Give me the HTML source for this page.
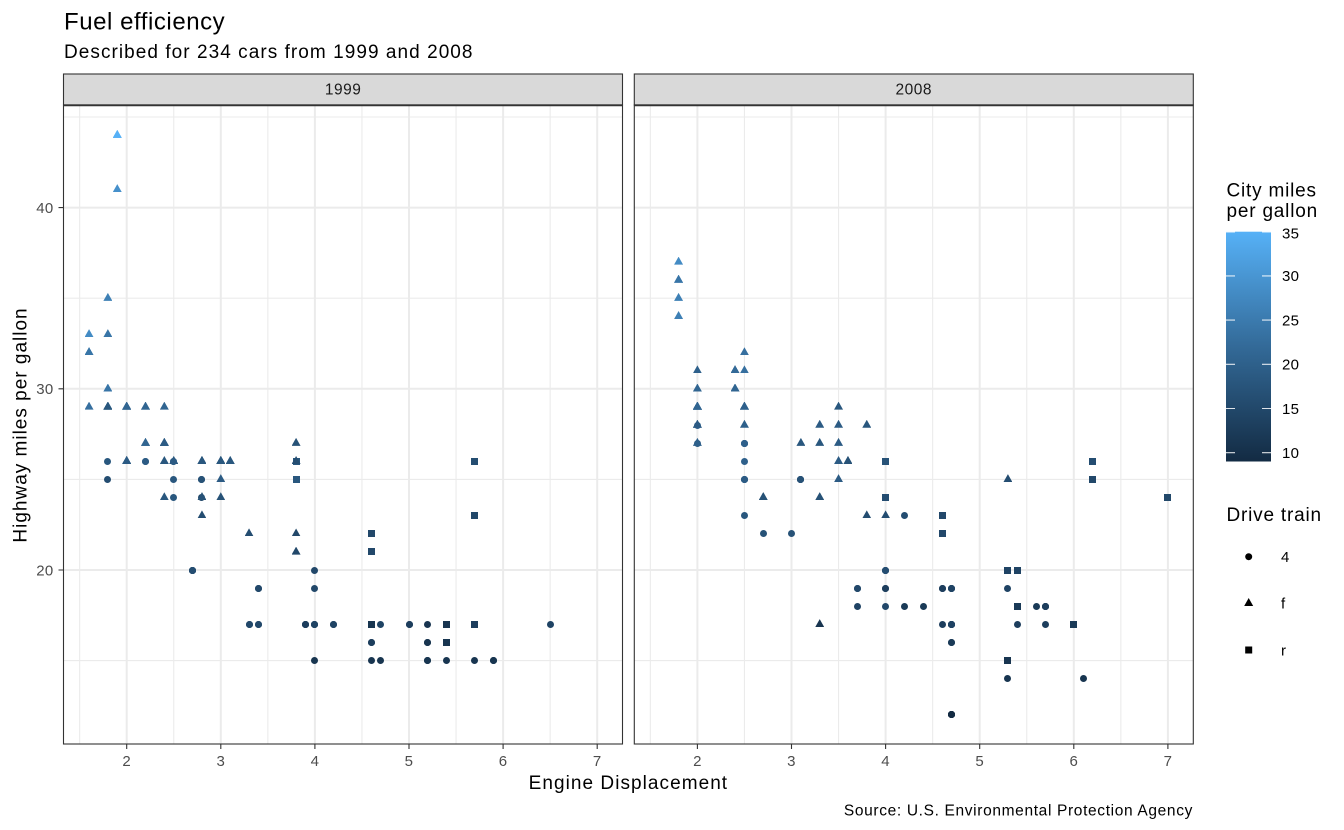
<!DOCTYPE html>
<html><head><meta charset="utf-8">
<style>
html,body{margin:0;padding:0;background:#fff;}
body{width:1344px;height:830px;position:relative;overflow:hidden;font-family:"Liberation Sans",Arial,sans-serif;}
svg{position:absolute;left:0;top:0;}
svg text{font-family:"Liberation Sans",Arial,sans-serif;}
.pts{position:absolute;left:0;top:0;width:1344px;height:830px;}
.pts i{position:absolute;display:block;font-size:0;line-height:0;top:calc(932.4px - var(--y) * 18.12px);}
.a i{left:calc(var(--x) * 94.1px - 61.5px);}
.b i{left:calc(var(--x) * 94.1px + 509.2px);}
.o{width:7px;height:7px;border-radius:50%;margin:-3.5px 0 0 -3.5px;}
.q{width:7px;height:7px;margin:-3.5px 0 0 -3.5px;}
.t{width:9px;height:8px;margin:-5.3px 0 0 -4.5px;clip-path:polygon(50% 0,100% 100%,0 100%);}
.k9{background:#132B43}.k11{background:#183550}.k12{background:#1A3A57}.k13{background:#1D3E5D}
.k14{background:#1F4364}.k15{background:#22486A}.k16{background:#244D71}.k17{background:#275277}
.k18{background:#29577E}.k19{background:#2C5B84}.k20{background:#2E608B}.k21{background:#316591}
.k22{background:#336A98}.k23{background:#366F9F}.k24{background:#3875A7}.k25{background:#3B7AAE}
.k26{background:#3E80B5}.k28{background:#438BC4}.k29{background:#4690CB}.k33{background:#51A6E8}
.k35{background:#56B1F7}
</style></head><body>
<svg width="1344" height="830" viewBox="0 0 1344 830">
<defs>
<linearGradient id="cb" x1="0" y1="0" x2="0" y2="1">
<stop offset="0" stop-color="#56B1F7"/>
<stop offset="0.5" stop-color="#336A98"/>
<stop offset="1" stop-color="#132B43"/>
</linearGradient>
</defs>
<rect width="1344" height="830" fill="#fff"/>
<!-- minor grid -->
<path fill="none" stroke="#EBEBEB" stroke-width="1.1" d="M79.65 105V744M173.75 105V744M267.85 105V744M361.95 105V744M456.05 105V744M550.15 105V744
M63.5 660.6H622.5M63.5 479.4H622.5M63.5 298.2H622.5M63.5 117H622.5
M650.35 105V744M744.45 105V744M838.55 105V744M932.65 105V744M1026.75 105V744M1120.85 105V744
M634.3 660.6H1193.3M634.3 479.4H1193.3M634.3 298.2H1193.3M634.3 117H1193.3"/>
<!-- major grid -->
<path fill="none" stroke="#EBEBEB" stroke-width="2" d="M126.7 105V744M220.8 105V744M314.9 105V744M409 105V744M503.1 105V744M597.2 105V744
M63.5 570H622.5M63.5 388.8H622.5M63.5 207.6H622.5
M697.4 105V744M791.5 105V744M885.6 105V744M979.7 105V744M1073.8 105V744M1167.9 105V744
M634.3 570H1193.3M634.3 388.8H1193.3M634.3 207.6H1193.3"/>
<!-- strips -->
<rect x="63.5" y="74" width="559" height="31" fill="#D9D9D9" stroke="#333333" stroke-width="1.1"/>
<rect x="634.3" y="74" width="559" height="31" fill="#D9D9D9" stroke="#333333" stroke-width="1.1"/>
<text x="343.1" y="94.3" font-size="15.5" letter-spacing="0.5" fill="#1A1A1A" text-anchor="middle">1999</text>
<text x="913.8" y="94.3" font-size="15.5" letter-spacing="0.5" fill="#1A1A1A" text-anchor="middle">2008</text>
<!-- ticks -->
<path fill="none" stroke="#333333" stroke-width="1.1" d="M126.7 744V749M220.8 744V749M314.9 744V749M409 744V749M503.1 744V749M597.2 744V749
M697.4 744V749M791.5 744V749M885.6 744V749M979.7 744V749M1073.8 744V749M1167.9 744V749
M58.5 570H63.5M58.5 388.8H63.5M58.5 207.6H63.5"/>
<g font-size="15" fill="#4D4D4D" text-anchor="middle" letter-spacing="0.3">
<text x="126.7" y="766">2</text><text x="220.8" y="766">3</text><text x="314.9" y="766">4</text>
<text x="409" y="766">5</text><text x="503.1" y="766">6</text><text x="597.2" y="766">7</text>
<text x="697.4" y="766">2</text><text x="791.5" y="766">3</text><text x="885.6" y="766">4</text>
<text x="979.7" y="766">5</text><text x="1073.8" y="766">6</text><text x="1167.9" y="766">7</text>
</g>
<g font-size="15" fill="#4D4D4D" text-anchor="end" letter-spacing="0.3">
<text x="53.5" y="575.3">20</text><text x="53.5" y="394.1">30</text><text x="53.5" y="212.9">40</text>
</g>
<!-- titles -->
<text x="64" y="29.3" font-size="24" letter-spacing="0.55" fill="#000">Fuel efficiency</text>
<text x="64" y="58" font-size="19" letter-spacing="1.05" fill="#000">Described for 234 cars from 1999 and 2008</text>
<text x="628.4" y="789" font-size="19" letter-spacing="1.05" fill="#000" text-anchor="middle">Engine Displacement</text>
<text transform="translate(26.7,425) rotate(-90)" font-size="19" letter-spacing="1" fill="#000" text-anchor="middle">Highway miles per gallon</text>
<text x="1193" y="815.5" font-size="15.5" letter-spacing="0.65" fill="#000" text-anchor="end">Source: U.S. Environmental Protection Agency</text>
<!-- colorbar legend -->
<text x="1226.5" y="196.5" font-size="19" letter-spacing="0.8" fill="#000">City miles</text>
<text x="1226.5" y="217" font-size="19" letter-spacing="0.8" fill="#000">per gallon</text>
<rect x="1226" y="231.7" width="45" height="229.8" fill="url(#cb)"/>
<path fill="none" stroke="#fff" stroke-opacity="0.85" stroke-width="1.1" d="M1226 231.9H1235M1262 231.9H1271M1226 275.9H1235M1262 275.9H1271M1226 320.1H1235M1262 320.1H1271M1226 364.3H1235M1262 364.3H1271M1226 408.5H1235M1262 408.5H1271M1226 452.7H1235M1262 452.7H1271"/>
<g font-size="15" fill="#000" letter-spacing="0.3">
<text x="1282" y="238.6">35</text><text x="1282" y="281.2">30</text><text x="1282" y="325.4">25</text>
<text x="1282" y="369.6">20</text><text x="1282" y="413.8">15</text><text x="1282" y="458">10</text>
</g>
<!-- shape legend -->
<text x="1226.5" y="521" font-size="19" letter-spacing="0.8" fill="#000">Drive train</text>
<circle cx="1248.7" cy="556.7" r="3.5" fill="#000"/>
<polygon points="1248.7,598 1253.2,606 1244.2,606" fill="#000"/>
<rect x="1245.2" y="646.5" width="7" height="7" fill="#000"/>
<g font-size="15" fill="#000">
<text x="1281" y="562">4</text><text x="1281" y="608.6">f</text><text x="1281" y="655.3">r</text>
</g>
<!-- panel borders -->
<rect x="63.5" y="105" width="559" height="639" fill="none" stroke="#333333" stroke-width="1.1"/>
<rect x="634.3" y="105" width="559" height="639" fill="none" stroke="#333333" stroke-width="1.1"/>
<path d="M63.5 105.3H622.5M634.3 105.3H1193.3" stroke="#333333" stroke-width="1.8"/>
</svg>

<div class="pts a">
<i class="t k18" style="--x:1.8;--y:29"></i><i class="t k21" style="--x:1.8;--y:29"></i><i class="t k16" style="--x:2.8;--y:26"></i><i class="t k18" style="--x:2.8;--y:26"></i>
<i class="o k18" style="--x:1.8;--y:26"></i><i class="o k16" style="--x:1.8;--y:25"></i><i class="o k15" style="--x:2.8;--y:25"></i><i class="o k17" style="--x:2.8;--y:25"></i>
<i class="o k15" style="--x:2.8;--y:24"></i><i class="q k13" style="--x:5.7;--y:17"></i><i class="q k16" style="--x:5.7;--y:26"></i><i class="q k15" style="--x:5.7;--y:23"></i>
<i class="o k11" style="--x:5.7;--y:15"></i><i class="o k14" style="--x:6.5;--y:17"></i><i class="t k19" style="--x:2.4;--y:27"></i><i class="t k18" style="--x:3.1;--y:26"></i>
<i class="t k18" style="--x:2.4;--y:24"></i><i class="t k17" style="--x:3;--y:24"></i><i class="t k16" style="--x:3.3;--y:22"></i><i class="t k16" style="--x:3.3;--y:22"></i>
<i class="t k15" style="--x:3.8;--y:22"></i><i class="t k15" style="--x:3.8;--y:21"></i><i class="o k13" style="--x:3.9;--y:17"></i><i class="o k14" style="--x:3.9;--y:17"></i>
<i class="o k11" style="--x:5.2;--y:15"></i><i class="o k11" style="--x:5.2;--y:17"></i><i class="o k13" style="--x:3.9;--y:17"></i><i class="o k11" style="--x:5.2;--y:16"></i>
<i class="o k11" style="--x:5.9;--y:15"></i><i class="o k11" style="--x:5.2;--y:15"></i><i class="o k11" style="--x:5.2;--y:16"></i><i class="o k11" style="--x:5.9;--y:15"></i>
<i class="q k11" style="--x:4.6;--y:17"></i><i class="q k11" style="--x:5.4;--y:17"></i><i class="o k14" style="--x:4;--y:17"></i><i class="o k15" style="--x:4;--y:19"></i>
<i class="o k14" style="--x:4;--y:17"></i><i class="o k13" style="--x:5;--y:17"></i><i class="o k14" style="--x:4.2;--y:17"></i><i class="o k14" style="--x:4.2;--y:17"></i>
<i class="o k13" style="--x:4.6;--y:16"></i><i class="o k13" style="--x:4.6;--y:16"></i><i class="o k11" style="--x:5.4;--y:15"></i><i class="q k18" style="--x:3.8;--y:26"></i>
<i class="q k18" style="--x:3.8;--y:25"></i><i class="q k15" style="--x:4.6;--y:21"></i><i class="q k15" style="--x:4.6;--y:22"></i><i class="t k28" style="--x:1.6;--y:33"></i>
<i class="t k24" style="--x:1.6;--y:32"></i><i class="t k25" style="--x:1.6;--y:32"></i><i class="t k23" style="--x:1.6;--y:29"></i><i class="t k24" style="--x:1.6;--y:32"></i>
<i class="t k18" style="--x:2.4;--y:26"></i><i class="t k18" style="--x:2.4;--y:27"></i><i class="t k18" style="--x:2.5;--y:26"></i><i class="t k18" style="--x:2.5;--y:26"></i>
<i class="t k19" style="--x:2;--y:26"></i><i class="t k19" style="--x:2;--y:29"></i><i class="o k15" style="--x:4;--y:20"></i><i class="o k14" style="--x:4.7;--y:17"></i>
<i class="o k11" style="--x:4;--y:15"></i><i class="o k11" style="--x:4.6;--y:15"></i><i class="q k11" style="--x:5.4;--y:17"></i><i class="q k11" style="--x:5.4;--y:16"></i>
<i class="o k14" style="--x:4;--y:17"></i><i class="o k13" style="--x:5;--y:17"></i><i class="t k21" style="--x:2.4;--y:29"></i><i class="t k19" style="--x:2.4;--y:27"></i>
<i class="t k18" style="--x:3;--y:26"></i><i class="t k19" style="--x:3;--y:25"></i><i class="o k14" style="--x:3.3;--y:17"></i><i class="o k15" style="--x:3.3;--y:17"></i>
<i class="t k18" style="--x:3.1;--y:26"></i><i class="t k16" style="--x:3.8;--y:26"></i><i class="t k17" style="--x:3.8;--y:27"></i><i class="o k18" style="--x:2.5;--y:25"></i>
<i class="o k18" style="--x:2.5;--y:24"></i><i class="o k21" style="--x:2.2;--y:26"></i><i class="o k19" style="--x:2.2;--y:26"></i><i class="o k19" style="--x:2.5;--y:26"></i>
<i class="o k19" style="--x:2.5;--y:26"></i><i class="o k15" style="--x:2.7;--y:20"></i><i class="o k16" style="--x:2.7;--y:20"></i><i class="o k15" style="--x:3.4;--y:19"></i>
<i class="o k15" style="--x:3.4;--y:17"></i><i class="t k21" style="--x:2.2;--y:29"></i><i class="t k21" style="--x:2.2;--y:27"></i><i class="t k18" style="--x:3;--y:26"></i>
<i class="t k18" style="--x:3;--y:26"></i><i class="t k21" style="--x:2.2;--y:27"></i><i class="t k21" style="--x:2.2;--y:29"></i><i class="t k18" style="--x:3;--y:26"></i>
<i class="t k18" style="--x:3;--y:26"></i><i class="t k24" style="--x:1.8;--y:30"></i><i class="t k24" style="--x:1.8;--y:33"></i><i class="t k26" style="--x:1.8;--y:35"></i>
<i class="o k11" style="--x:4.7;--y:15"></i><i class="o k15" style="--x:2.7;--y:20"></i><i class="o k16" style="--x:2.7;--y:20"></i><i class="o k15" style="--x:3.4;--y:17"></i>
<i class="o k15" style="--x:3.4;--y:19"></i><i class="t k21" style="--x:2;--y:29"></i><i class="t k19" style="--x:2;--y:26"></i><i class="t k17" style="--x:2.8;--y:24"></i>
<i class="t k33" style="--x:1.9;--y:44"></i><i class="t k21" style="--x:2;--y:29"></i><i class="t k19" style="--x:2;--y:26"></i><i class="t k16" style="--x:2.8;--y:23"></i>
<i class="t k17" style="--x:2.8;--y:24"></i><i class="t k35" style="--x:1.9;--y:44"></i><i class="t k29" style="--x:1.9;--y:41"></i><i class="t k21" style="--x:2;--y:29"></i>
<i class="t k19" style="--x:2;--y:26"></i><i class="t k21" style="--x:1.8;--y:29"></i><i class="t k18" style="--x:1.8;--y:29"></i><i class="t k16" style="--x:2.8;--y:26"></i>
<i class="t k18" style="--x:2.8;--y:26"></i>
</div>

<div class="pts b">
<i class="t k20" style="--x:2;--y:31"></i><i class="t k21" style="--x:2;--y:30"></i><i class="t k18" style="--x:3.1;--y:27"></i><i class="o k20" style="--x:2;--y:28"></i>
<i class="o k19" style="--x:2;--y:27"></i><i class="o k17" style="--x:3.1;--y:25"></i><i class="o k15" style="--x:3.1;--y:25"></i><i class="o k17" style="--x:3.1;--y:25"></i>
<i class="o k16" style="--x:4.2;--y:23"></i><i class="q k14" style="--x:5.3;--y:20"></i><i class="q k11" style="--x:5.3;--y:15"></i><i class="q k14" style="--x:5.3;--y:20"></i>
<i class="q k12" style="--x:6;--y:17"></i><i class="q k16" style="--x:6.2;--y:26"></i><i class="q k15" style="--x:6.2;--y:25"></i><i class="q k15" style="--x:7;--y:24"></i>
<i class="o k14" style="--x:5.3;--y:19"></i><i class="o k11" style="--x:5.3;--y:14"></i><i class="t k22" style="--x:2.4;--y:30"></i><i class="t k18" style="--x:3.5;--y:29"></i>
<i class="t k17" style="--x:3.6;--y:26"></i><i class="t k17" style="--x:3.3;--y:24"></i><i class="t k17" style="--x:3.3;--y:24"></i><i class="t k11" style="--x:3.3;--y:17"></i>
<i class="t k16" style="--x:3.8;--y:23"></i><i class="t k16" style="--x:4;--y:23"></i><i class="o k15" style="--x:3.7;--y:19"></i><i class="o k14" style="--x:3.7;--y:18"></i>
<i class="o k14" style="--x:4.7;--y:19"></i><i class="o k14" style="--x:4.7;--y:19"></i><i class="o k9" style="--x:4.7;--y:12"></i><i class="o k13" style="--x:4.7;--y:17"></i>
<i class="o k9" style="--x:4.7;--y:12"></i><i class="o k13" style="--x:4.7;--y:17"></i><i class="o k13" style="--x:5.7;--y:18"></i><i class="o k12" style="--x:4.7;--y:16"></i>
<i class="o k9" style="--x:4.7;--y:12"></i><i class="o k13" style="--x:4.7;--y:17"></i><i class="o k13" style="--x:4.7;--y:17"></i><i class="o k12" style="--x:4.7;--y:16"></i>
<i class="o k9" style="--x:4.7;--y:12"></i><i class="o k13" style="--x:5.7;--y:17"></i><i class="q k12" style="--x:5.4;--y:18"></i><i class="o k13" style="--x:4;--y:19"></i>
<i class="o k13" style="--x:4.6;--y:19"></i><i class="o k13" style="--x:4.6;--y:17"></i><i class="o k13" style="--x:5.4;--y:17"></i><i class="q k17" style="--x:4;--y:26"></i>
<i class="q k16" style="--x:4;--y:24"></i><i class="q k15" style="--x:4.6;--y:23"></i><i class="q k15" style="--x:4.6;--y:22"></i><i class="q k14" style="--x:5.4;--y:20"></i>
<i class="t k26" style="--x:1.8;--y:34"></i><i class="t k25" style="--x:1.8;--y:36"></i><i class="t k24" style="--x:1.8;--y:36"></i><i class="t k21" style="--x:2;--y:29"></i>
<i class="t k21" style="--x:2.4;--y:30"></i><i class="t k21" style="--x:2.4;--y:31"></i><i class="t k19" style="--x:3.3;--y:28"></i><i class="t k20" style="--x:2;--y:28"></i>
<i class="t k20" style="--x:2;--y:27"></i><i class="t k17" style="--x:2.7;--y:24"></i><i class="t k16" style="--x:2.7;--y:24"></i><i class="t k17" style="--x:2.7;--y:24"></i>
<i class="o k17" style="--x:3;--y:22"></i><i class="o k15" style="--x:3.7;--y:19"></i><i class="o k9" style="--x:4.7;--y:12"></i><i class="o k14" style="--x:4.7;--y:19"></i>
<i class="o k13" style="--x:5.7;--y:18"></i><i class="o k11" style="--x:6.1;--y:14"></i><i class="o k12" style="--x:4.2;--y:18"></i><i class="o k12" style="--x:4.4;--y:18"></i>
<i class="q k12" style="--x:5.4;--y:18"></i><i class="o k13" style="--x:4;--y:19"></i><i class="o k13" style="--x:4.6;--y:19"></i><i class="t k23" style="--x:2.5;--y:31"></i>
<i class="t k23" style="--x:2.5;--y:32"></i><i class="t k19" style="--x:3.5;--y:27"></i><i class="t k19" style="--x:3.5;--y:26"></i><i class="t k19" style="--x:3.5;--y:25"></i>
<i class="o k14" style="--x:4;--y:20"></i><i class="o k12" style="--x:5.6;--y:18"></i><i class="t k18" style="--x:3.8;--y:28"></i><i class="t k16" style="--x:5.3;--y:25"></i>
<i class="o k20" style="--x:2.5;--y:27"></i><i class="o k19" style="--x:2.5;--y:25"></i><i class="o k20" style="--x:2.5;--y:26"></i><i class="o k18" style="--x:2.5;--y:23"></i>
<i class="o k20" style="--x:2.5;--y:25"></i><i class="o k20" style="--x:2.5;--y:27"></i><i class="o k19" style="--x:2.5;--y:25"></i><i class="o k20" style="--x:2.5;--y:27"></i>
<i class="o k16" style="--x:4;--y:20"></i><i class="o k14" style="--x:4.7;--y:17"></i><i class="t k21" style="--x:2.4;--y:31"></i><i class="t k21" style="--x:2.4;--y:31"></i>
<i class="t k19" style="--x:3.5;--y:28"></i><i class="t k21" style="--x:2.4;--y:31"></i><i class="t k22" style="--x:2.4;--y:31"></i><i class="t k18" style="--x:3.3;--y:27"></i>
<i class="t k28" style="--x:1.8;--y:37"></i><i class="t k26" style="--x:1.8;--y:35"></i><i class="o k13" style="--x:5.7;--y:18"></i><i class="o k17" style="--x:2.7;--y:22"></i>
<i class="o k15" style="--x:4;--y:18"></i><i class="o k16" style="--x:4;--y:20"></i><i class="t k21" style="--x:2;--y:29"></i><i class="t k22" style="--x:2;--y:29"></i>
<i class="t k22" style="--x:2;--y:29"></i><i class="t k21" style="--x:2;--y:29"></i><i class="t k21" style="--x:2.5;--y:29"></i><i class="t k21" style="--x:2.5;--y:29"></i>
<i class="t k20" style="--x:2.5;--y:28"></i><i class="t k20" style="--x:2.5;--y:29"></i><i class="t k19" style="--x:2;--y:28"></i><i class="t k21" style="--x:2;--y:29"></i>
<i class="t k17" style="--x:3.6;--y:26"></i>
</div>
</body></html>
